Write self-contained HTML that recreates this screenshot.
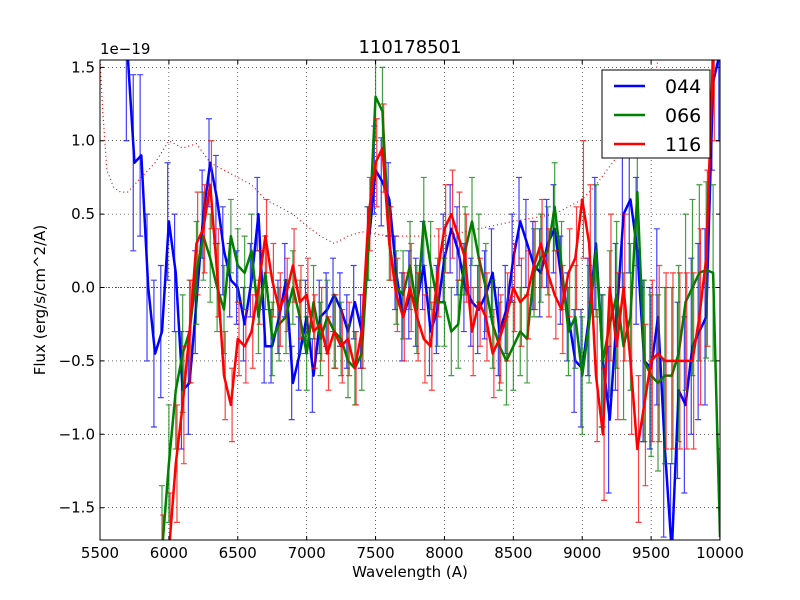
<!DOCTYPE html>
<html><head><meta charset="utf-8"><style>
html,body{margin:0;padding:0;background:#fff;width:800px;height:600px;overflow:hidden;font-family:"DejaVu Sans","Liberation Sans",sans-serif}
svg{display:block;position:absolute;left:0;top:0}
</style></head><body>
<svg id="c" width="800" height="600" xmlns="http://www.w3.org/2000/svg"></svg>
<script>
const wl=[];for(let w=5700;w<=10000;w+=50)wl.push(w);
const blue=[1.6,0.85,0.9,0.0,-0.45,-0.3,0.45,0.1,-0.7,-0.65,-0.1,0.5,0.85,0.6,0.25,0.05,0.0,-0.25,0.05,0.5,-0.4,-0.4,-0.2,0.05,-0.65,-0.45,-0.2,-0.6,-0.2,-0.15,-0.05,-0.15,-0.3,-0.1,-0.3,0.3,0.8,0.72,0.6,0.1,-0.2,-0.05,-0.1,0.15,-0.3,-0.15,0.2,0.4,0.25,0.0,-0.1,-0.15,-0.05,0.1,-0.3,-0.15,0.2,0.45,0.3,0.15,0.1,0.3,0.4,0.05,-0.2,-0.5,-0.55,-0.2,0.3,-0.5,-0.9,-0.2,0.5,0.6,0.25,-0.5,-0.55,-0.2,-1.1,-1.8,-0.7,-0.8,-0.4,-0.3,-0.2,1.4,1.6];
const green=[null,null,null,null,null,-1.8,-1.2,-0.7,-0.45,-0.3,0.1,0.35,0.2,0.0,-0.15,0.35,0.15,0.1,0.25,-0.2,0.1,-0.35,-0.25,-0.2,0.0,-0.2,-0.45,-0.1,-0.35,-0.2,-0.3,-0.35,-0.5,-0.55,-0.45,0.3,1.3,1.2,0.3,0.0,-0.05,0.15,-0.15,0.45,0.15,-0.1,-0.1,-0.3,-0.25,0.25,0.45,0.2,0.0,-0.25,-0.4,-0.5,-0.4,-0.3,-0.35,0.1,0.2,0.25,0.55,0.15,-0.3,-0.2,-0.6,-0.25,0.25,-0.5,-0.25,-0.05,-0.4,-0.2,0.65,-0.5,-0.6,-0.65,-0.6,-0.6,-0.45,-0.1,0.0,0.1,0.12,0.1,-1.7];
const red=[null,null,null,null,null,-2.0,-1.8,-1.2,-0.8,-0.3,0.3,0.4,0.7,0.1,-0.6,-0.8,-0.35,-0.4,-0.3,0.0,0.35,0.05,-0.15,-0.05,0.15,-0.1,-0.05,-0.3,-0.25,-0.45,-0.3,-0.4,-0.35,-0.55,-0.3,0.5,0.85,0.95,0.3,-0.05,-0.2,0.0,-0.2,-0.35,-0.4,0.1,0.4,0.5,0.35,0.2,-0.3,-0.1,-0.2,-0.45,-0.35,-0.2,0.0,-0.1,-0.05,0.15,0.3,0.1,-0.05,-0.15,0.1,0.2,0.6,0.3,-0.6,-1.0,0.0,-0.4,0.0,-0.5,-1.1,-0.8,-0.5,-0.45,-0.5,-0.5,-0.5,-0.5,-0.5,-0.2,0.2,1.6,1.6];
const errs=[0.6,0.6,0.55,0.5,0.5,0.45,0.4,0.4,0.4,0.35,0.35,0.3,0.3,0.3,0.3,0.25,0.25,0.25,0.25,0.25,0.25,0.25,0.25,0.25,0.25,0.25,0.25,0.25,0.25,0.25,0.25,0.25,0.25,0.25,0.25,0.25,0.3,0.3,0.25,0.25,0.3,0.3,0.3,0.3,0.3,0.3,0.3,0.3,0.3,0.3,0.3,0.3,0.3,0.3,0.3,0.3,0.3,0.3,0.3,0.3,0.3,0.3,0.3,0.3,0.3,0.35,0.4,0.4,0.45,0.45,0.5,0.5,0.5,0.5,0.5,0.55,0.55,0.6,0.6,0.6,0.6,0.6,0.6,0.6,0.6,0.6,0.6];
const skyW=[5500,5520,5550,5600,5650,5700,5800,5900,6000,6100,6200,6300,6400,6500,6600,6700,6800,6900,7000,7100,7200,7300,7400,7600,8000,8500,8800,9000,9100,9300,9400,9500,9550];
const skyV=[1.55,1.2,0.8,0.68,0.65,0.65,0.75,0.85,1.0,0.95,0.98,0.85,0.8,0.75,0.7,0.6,0.55,0.5,0.42,0.35,0.3,0.35,0.38,0.35,0.35,0.45,0.5,0.6,0.7,0.95,1.1,1.3,1.55];
const xTicks=[5500,6000,6500,7000,7500,8000,8500,9000,9500,10000];
const yTicks=[-1.5,-1.0,-0.5,0.0,0.5,1.0,1.5];
const L=100,R=720,T=60,B=540,X0=5500,X1=10000,Y0=-1.72,Y1=1.55;
const X=v=>L+(v-X0)/(X1-X0)*(R-L), Y=v=>B-(v-Y0)/(Y1-Y0)*(B-T);
const clampV=v=>Math.max(Y0,Math.min(Y1,v));
const svg=document.getElementById('c'),NS='http://www.w3.org/2000/svg';
function mk(t,a,p){const e=document.createElementNS(NS,t);for(const k in a)e.setAttribute(k,a[k]);(p||svg).appendChild(e);return e;}
const defs=mk('defs',{});const cp=mk('clipPath',{id:'cl'},defs);mk('rect',{x:L,y:T,width:R-L,height:B-T},cp);
const g=mk('g',{'clip-path':'url(#cl)'});


xTicks.forEach(t=>{const l=mk('line',{x1:X(t),x2:X(t),y1:T,y2:B,stroke:'#000','stroke-dasharray':'1,3','stroke-width':0.6},g);

});
yTicks.forEach(t=>{const l=mk('line',{x1:L,x2:R,y1:Y(t),y2:Y(t),stroke:'#000','stroke-dasharray':'1,3','stroke-width':0.6},g);

});
const zl=mk('line',{x1:L,x2:R,y1:Y(0),y2:Y(0),stroke:'#008000','stroke-dasharray':'1,2','stroke-width':1},g);


const sky=mk('polyline',{points:skyW.map((w,i)=>X(w)+','+Y(clampV(skyV[i]))).join(' '),fill:'none',stroke:'#f00','stroke-dasharray':'1,3','stroke-width':1.2},g);


const series=[['044',blue,'#0000ff',-8],['066',green,'#008000',0],['116',red,'#ff0000',8]];
series.forEach(([nm,vals,col,off])=>{
  const sg=mk('g',{},g);
  
  
  vals.forEach((v,i)=>{if(v===null)return;const x=X(wl[i])+off*0.15,e=errs[i];
    const lo=clampV(v-e),hi=clampV(v+e);
    let d=`M${x},${Y(lo)}V${Y(hi)}`;
    if(v-e>Y0)d+=`M${x-3},${Y(lo)}h6`;
    if(v+e<Y1)d+=`M${x-3},${Y(hi)}h6`;
    const eb=mk('path',{d:d,stroke:col,'stroke-width':1.2,fill:'none',opacity:0.75},sg);
    
    });
  const pts=[];vals.forEach((v,i)=>{if(v!==null)pts.push(X(wl[i])+','+Y(v));});
  const pl=mk('polyline',{points:pts.join(' '),fill:'none',stroke:col,'stroke-width':2.5,'stroke-linejoin':'round'},sg);
  
  
});
const fr=mk('rect',{x:L,y:T,width:R-L,height:B-T,fill:'none',stroke:'#000','stroke-width':1});


xTicks.forEach(t=>{mk('path',{d:`M${X(t)},${B}v-4M${X(t)},${T}v4`,stroke:'#000'});
  const tx=mk('text',{x:X(t),y:B+18,'text-anchor':'middle','font-size':15});tx.textContent=t;
  
  });
yTicks.forEach(t=>{mk('path',{d:`M${L},${Y(t)}h4M${R},${Y(t)}h-4`,stroke:'#000'});
  const tx=mk('text',{x:L-5,y:Y(t)+5,'text-anchor':'end','font-size':15});tx.textContent=t.toFixed(1).replace('-','\u2212');
  
  });
function txt(s,a,n){const t=mk('text',a);t.textContent=s;return t;}
txt('1e\u221219',{x:L,y:54,'font-size':15},'y-scale-offset');
txt('110178501',{x:410,y:53,'text-anchor':'middle','font-size':18},'chart-title');
txt('Wavelength (A)',{x:410,y:577,'text-anchor':'middle','font-size':15},'x-axis-title');
txt('Flux (erg/s/cm^2/A)',{x:45,y:300,'text-anchor':'middle','font-size':15,transform:'rotate(-90 45 300)'},'y-axis-title');
const lg=mk('g',{});


mk('rect',{x:602,y:70,width:108,height:88,fill:'#fff',stroke:'#000'},lg);
series.forEach(([nm,,col],i)=>{const y=86+i*29;mk('line',{x1:614,x2:645,y1:y,y2:y,stroke:col,'stroke-width':2.5},lg);
  const t=mk('text',{x:665,y:y+7,'font-size':19},lg);t.textContent=nm;
  
  });
</script>
</body></html>
